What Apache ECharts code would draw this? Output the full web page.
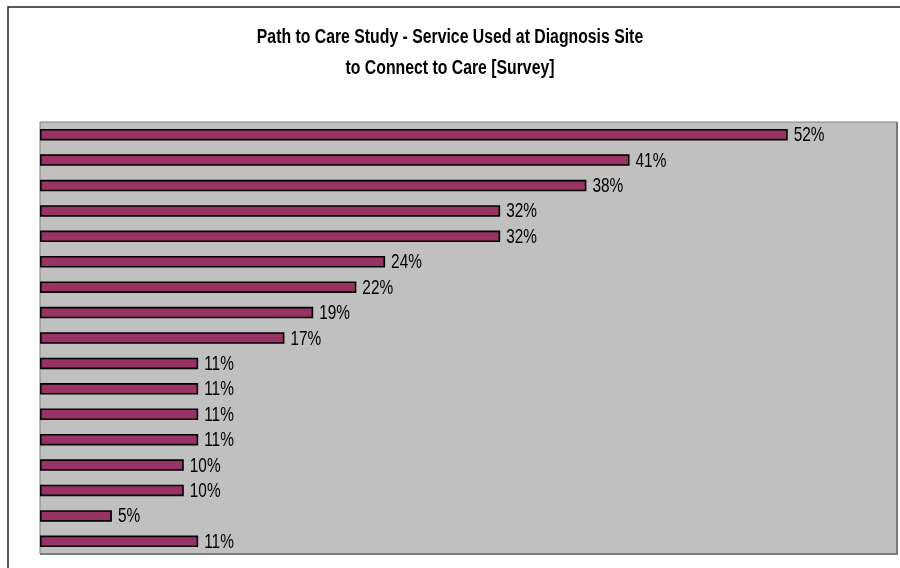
<!DOCTYPE html>
<html>
<head>
<meta charset="utf-8">
<style>
  html, body { margin: 0; padding: 0; background: #fff; }
  #chart { width: 900px; height: 568px; }
</style>
<script src="https://cdn.jsdelivr.net/npm/echarts@6/dist/echarts.min.js"></script>
</head>
<body>
<div id="chart"></div>
<script>
// Services used at the diagnosis site, listed top to bottom
const categories = [
  'Service 1', 'Service 2', 'Service 3', 'Service 4', 'Service 5', 'Service 6',
  'Service 7', 'Service 8', 'Service 9', 'Service 10', 'Service 11', 'Service 12',
  'Service 13', 'Service 14', 'Service 15', 'Service 16', 'Other'
];
// Share of respondents (%)
const percentUsed = [52, 41, 38, 32, 32, 24, 22, 19, 17, 11, 11, 11, 11, 10, 10, 5, 11];

const titleLines = ['Path to Care Study - Service Used at Diagnosis Site', 'to Connect to Care [Survey]'];

const FONT = '"Liberation Sans", Arial, sans-serif';
const NARROW = 0.79;   // horizontal squeeze to get a narrow-face look
const GRID = { left: 40, top: 122, right: 3, bottom: 14 };

const chart = echarts.init(document.getElementById('chart'));
chart.setOption({
  animation: false,
  backgroundColor: '#ffffff',
  grid: {
    left: GRID.left, top: GRID.top, right: GRID.right, bottom: GRID.bottom,
    show: true,
    backgroundColor: '#C0C0C0',
    borderColor: '#808080',
    borderWidth: 1
  },
  xAxis: {
    type: 'value',
    min: 0,
    max: 59.6,
    show: false
  },
  yAxis: {
    type: 'category',
    data: categories,
    inverse: true,
    show: false
  },
  graphic: [
    // outer chart frame
    {
      type: 'rect',
      shape: { x: 8, y: 7, width: 1000, height: 1000 },
      style: { fill: 'none', stroke: '#222', lineWidth: 1.5 },
      silent: true
    },
    // darker right / bottom edge of the plot area
    {
      type: 'polyline',
      shape: { points: [[900 - GRID.right, GRID.top], [900 - GRID.right, 568 - GRID.bottom], [GRID.left, 568 - GRID.bottom]] },
      style: { stroke: '#7a7a7a', lineWidth: 2, fill: 'none' },
      silent: true
    },
    // two-line title, condensed
    {
      type: 'group',
      x: 450,
      y: 0,
      scaleX: NARROW,
      silent: true,
      children: titleLines.map((line, i) => ({
        type: 'text',
        x: 0,
        y: 37 + i * 31,
        style: {
          text: line,
          font: 'bold 20px ' + FONT,
          fill: '#000',
          align: 'center',
          verticalAlign: 'middle'
        }
      }))
    }
  ],
  series: [
    {
      type: 'bar',
      data: percentUsed,
      barWidth: 11.5,
      itemStyle: {
        color: '#993366',
        borderColor: '#000',
        borderWidth: 1.6
      }
    },
    {
      // value labels beside each bar, condensed
      type: 'custom',
      data: percentUsed.map((v, i) => [v, i]),
      encode: { x: 0, y: 1 },
      silent: true,
      z: 5,
      renderItem: function (params, api) {
        const p = api.coord([api.value(0), api.value(1)]);
        return {
          type: 'text',
          x: p[0] + 6,
          y: p[1] + 1,
          scaleX: 0.77,
          style: {
            text: api.value(0) + '%',
            font: '20px ' + FONT,
            fill: '#000',
            align: 'left',
            verticalAlign: 'middle'
          }
        };
      }
    }
  ]
});
</script>
</body>
</html>
